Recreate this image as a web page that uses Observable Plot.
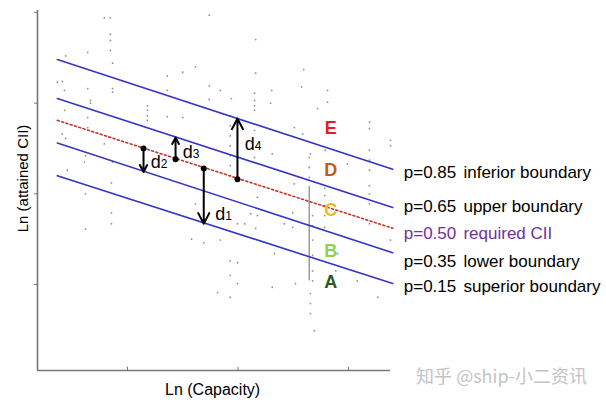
<!DOCTYPE html>
<html><head><meta charset="utf-8">
<script src="https://cdn.jsdelivr.net/npm/d3@7"></script>
<script src="https://cdn.jsdelivr.net/npm/@observablehq/plot@0.6"></script>
<style>body{margin:0;background:#fff;} #chart{width:606px;height:403px;}</style>
</head><body><div id="chart"></div>
<script>
// ----- data -----
const xTicks = [8, 10, 12];
const yTicks = [1, 2, 3, 4];
const xDomain = [6.371, 12.76];
const yDomain = [0.052, 4.021];

const boundaryP = [0.85, 0.65, 0.50, 0.35, 0.15];
const boundaryText = ["p=0.85", "p=0.65", "p=0.50", "p=0.35", "p=0.15"];
const boundaryNames = ["inferior boundary", "upper boundary", "required CII", "lower boundary", "superior boundary"];
const lineStartX = 6.73;
const lineEndX = 12.8;
const lineStartY = [3.48, 3.05, 2.81, 2.56, 2.20];
const lineEndY = [2.27, 1.85, 1.62, 1.35, 1.01];
const labelBaseY = [2.169, 1.794, 1.507, 1.198, 0.912];
const pLabelX = 13.0;
const nameLabelX = 14.08;

const ratingLetters = ["E", "D", "C", "B", "A"];
const ratingX = 11.68;
const ratingY = [2.725, 2.262, 1.816, 1.369, 1.028];

const distSub = ["2", "3", "4", "1"];
const distX = [8.29, 8.87, 9.99, 9.38];
const distFrom = [2.50, 2.38, 2.16, 2.28];
const distTo = [2.24, 2.62, 2.83, 1.67];
const distLabelX = [8.42, 9.00, 10.12, 9.59];
const distLabelY = [2.28, 2.39, 2.48, 1.71];

const rangeBarX = 11.29, rangeBarY1 = 1.04, rangeBarY2 = 2.08;

const scatterX = [7.58,7.69,7.69,7.69,7.69,7.73,7.28,6.88,9.48,9.00,9.23,8.72,8.72,9.48,6.73,6.82,6.86,7.28,7.73,7.73,7.33,7.33,6.86,7.28,8.36,8.36,8.36,8.36,8.72,9.00,9.48,6.82,7.28,6.88,7.58,7.24,7.22,7.73,6.91,
 10.32,10.32,11.19,10.61,11.15,11.62,10.30,10.30,10.30,10.30,9.88,9.68,10.59,11.44,11.62,11.02,11.17,12.38,12.38,12.76,12.76,10.30,10.30,9.86,9.86,9.86,9.86,9.86,9.86,9.86,10.62,11.31,11.58,11.98,12.38,12.38,12.38,11.29,11.29,11.29,12.76,
 7.71,7.24,7.71,7.71,7.24,9.16,9.38,9.23,9.63,
 11.02,11.57,11.57,12.38,12.38,12.38,10.35,10.23,10.35,9.99,10.12,10.32,10.84,10.99,10.99,11.57,11.57,11.57,11.35,11.35,11.35,11.35,11.35,11.35,10.66,9.86,9.99,9.68,9.86,9.99,10.62,9.86,11.04,11.31,11.31,11.31,11.38,11.77,11.80,12.76,12.53,12.38,12.16];
const scatterY = [3.94,3.94,3.76,3.69,3.58,3.44,3.56,3.52,3.97,3.34,3.40,3.30,3.14,3.19,3.23,3.24,3.14,3.16,3.16,3.12,3.03,3.00,2.92,2.84,2.97,2.92,2.86,2.81,2.85,2.84,3.04,2.66,2.73,2.61,2.55,2.42,2.35,2.35,2.26,
 3.70,3.33,3.37,3.14,3.18,3.14,3.11,3.03,2.97,2.92,3.05,3.14,3.00,2.94,3.01,2.73,2.66,2.79,2.72,2.59,2.53,2.70,2.40,2.86,2.75,2.64,2.53,2.42,2.31,2.20,2.44,2.44,2.48,2.33,2.48,2.37,2.26,2.40,2.29,2.18,2.28,
 2.12,2.00,1.79,1.67,1.61,1.50,1.46,1.89,0.91,
 2.11,2.06,1.98,2.09,2.00,1.89,1.96,1.78,1.76,1.67,1.67,1.62,1.67,1.79,1.63,1.87,1.76,1.63,1.76,1.65,1.49,1.32,1.15,1.04,1.34,1.26,1.24,1.49,1.10,1.01,0.97,0.86,1.01,0.90,0.79,0.68,0.49,1.15,1.34,1.49,0.86,1.67,1.04];

// ----- tables built from arrays -----
const lines = boundaryP.flatMap((p, i) => [
  {p, x: lineStartX, y: lineStartY[i]},
  {p, x: lineEndX, y: lineEndY[i]}
]);
const scatter = scatterX.map((x, i) => ({x, y: scatterY[i]}));
const labels = boundaryP.map((p, i) => ({p, t: boundaryText[i], n: boundaryNames[i], y: labelBaseY[i]}));
const ratings = ratingLetters.map((l, i) => ({l, y: ratingY[i]}));
const dists = distSub.map((s, i) => ({s, x: distX[i], y1: distFrom[i], y2: distTo[i], lx: distLabelX[i], ly: distLabelY[i]}));
const ratingColor = {E: "#e31b23", D: "#c55a11", C: "#f2b81f", B: "#92d050", A: "#2f5a1e"};

const chart = Plot.plot({
  width: 606, height: 403,
  marginLeft: 37, marginRight: 216, marginTop: 10, marginBottom: 33,
  x: {domain: xDomain, axis: null},
  y: {domain: yDomain, axis: null},
  style: {fontFamily: "'Liberation Sans', Arial, sans-serif", background: "white"},
  marks: [
    Plot.dot(scatter, {x: "x", y: "y", r: 0.9, fill: "#909090", stroke: "none"}),
    Plot.ruleX([rangeBarX], {y1: rangeBarY1, y2: rangeBarY2, stroke: "#9a9a9a", strokeWidth: 1.5}),
    Plot.line(lines.filter(d => d.p !== 0.5), {x: "x", y: "y", z: "p", stroke: "#3535c8", strokeWidth: 1.6}),
    Plot.line(lines.filter(d => d.p === 0.5), {x: "x", y: "y", z: "p", stroke: "#c0392b", strokeWidth: 1.6, strokeDasharray: "2,2.5"}),
    Plot.arrow(dists, {x: "x", y1: "y1", y2: "y2", stroke: "black", strokeWidth: 2, headLength: 9, headAngle: 55}),
    Plot.dot(dists, {x: "x", y: "y1", r: 3, fill: "black"}),
    Plot.text(dists, {x: "lx", y: "ly", text: () => "d", textAnchor: "start", lineAnchor: "bottom", fontSize: 18, fill: "black"}),
    Plot.text(dists, {x: "lx", y: "ly", text: "s", textAnchor: "start", lineAnchor: "bottom", fontSize: 12, dx: 10, fill: "black"}),
    Plot.text(ratings, {x: ratingX, y: "y", text: "l", fontSize: 18, fontWeight: "bold", fill: d => ratingColor[d.l]}),
    Plot.text(labels, {x: pLabelX, y: "y", text: "t", textAnchor: "start", lineAnchor: "bottom", fontSize: 17,
      fill: d => d.p === 0.5 ? "#7030a0" : "black", fontWeight: d => d.p === 0.5 ? "bold" : "normal"}),
    Plot.text(labels, {x: nameLabelX, y: "y", text: "n", textAnchor: "start", lineAnchor: "bottom", fontSize: 17,
      fill: d => d.p === 0.5 ? "#7030a0" : "black"}),
    Plot.axisY(yTicks, {tickSize: 3, tickFormat: () => "", stroke: "#777", label: null}),
    Plot.ruleX(xTicks, {y1: yDomain[0], y2: yDomain[0] + 0.035, stroke: "#777"}),
    Plot.ruleX([xDomain[0]], {stroke: "#777", strokeWidth: 1.6}),
    Plot.ruleY([yDomain[0]], {stroke: "#777", strokeWidth: 1.6}),
    Plot.text(["Ln (attained CII)"], {x: 6.118, y: 2.169, text: d => d, rotate: -90, fontSize: 15, fill: "black"}),
    Plot.text(["Ln (Capacity)"], {x: 9.54, y: -0.158, text: d => d, fontSize: 16, fill: "black"}),
    Plot.text(["知乎 @ship-小二资讯"], {x: 14.77, y: -0.025, text: d => d, fontSize: 18, fill: "#c4c4c4",
      fontFamily: "'Noto Sans CJK SC', sans-serif"})
  ]
});
document.getElementById("chart").appendChild(chart);
</script>
</body></html>
